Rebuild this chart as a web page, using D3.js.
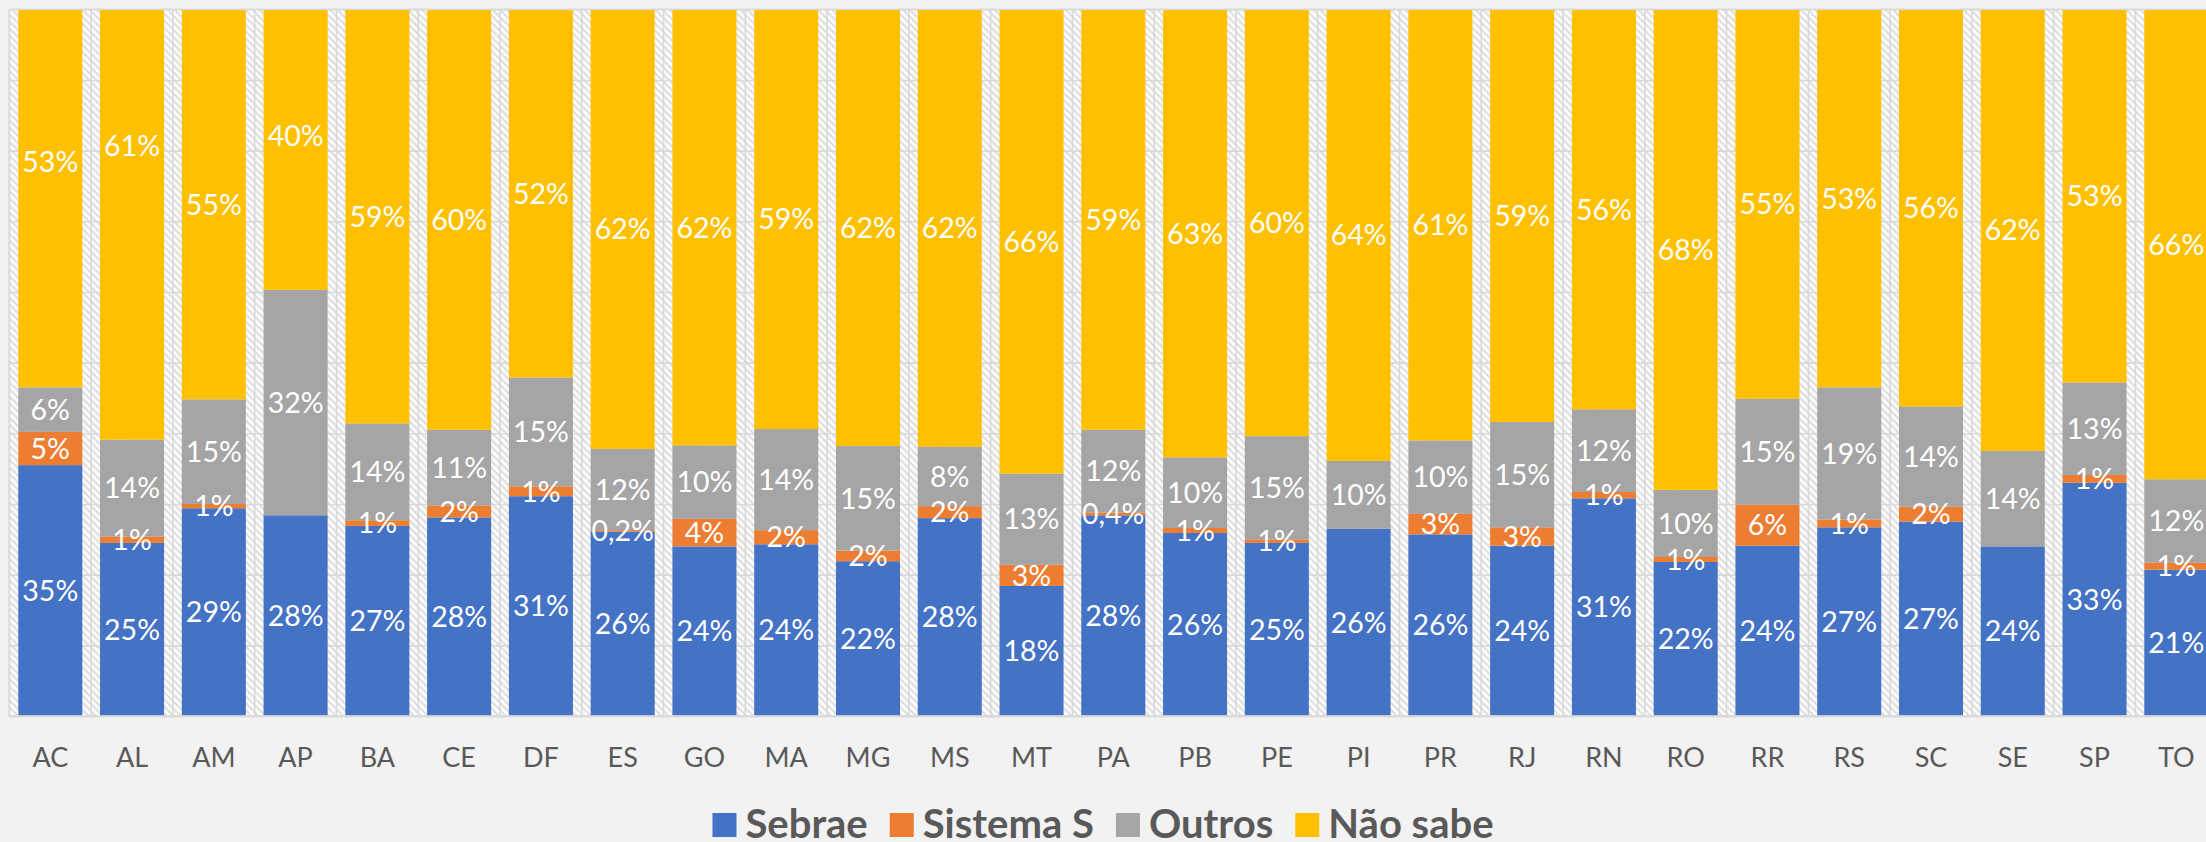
<!DOCTYPE html>
<html>
<head>
<meta charset="utf-8">
<script src="https://cdn.jsdelivr.net/npm/d3@7"></script>
<style>
  html, body { margin: 0; padding: 0; background: #f2f2f2; overflow: hidden; }
  svg { display: block; }
</style>
</head>
<body>
<svg id="chart" width="2206" height="842"></svg>
<script>
// ---------------- DATA ----------------
const categories = ["AC","AL","AM","AP","BA","CE","DF","ES","GO","MA","MG","MS","MT","PA","PB","PE","PI","PR","RJ","RN","RO","RR","RS","SC","SE","SP","TO"];

const seriesNames = ["Sebrae", "Sistema S", "Outros", "Não sabe"];

const sebrae   = [35.5,24.5,29.4,28.4,26.9,28.1,31.1,26.1,24.0,24.3,21.9,28.0,18.4,28.4,25.9,24.5,26.5,25.7,24.1,30.8,21.8,24.1,26.7,27.5,24.0,33.0,20.7];
const sistemaS = [4.7,0.9,0.6,0,0.8,1.7,1.4,0.2,3.9,2.0,1.5,1.7,3.0,0.4,0.7,0.5,0,2.9,2.6,0.9,0.7,5.8,1.1,2.1,0,1.1,1.0];
const outros   = [6.3,13.7,14.8,31.9,13.7,10.7,15.4,11.5,10.4,14.3,14.8,8.4,12.9,11.7,10.0,14.6,9.6,10.4,14.9,11.7,9.5,15.0,18.7,14.2,13.5,13.1,11.8];
const naoSabe  = [53.5,60.9,55.2,39.7,58.6,59.5,52.1,62.2,61.7,59.4,61.8,61.9,65.7,59.5,63.4,60.4,63.9,61.0,58.4,56.6,68.0,55.1,53.5,56.2,62.5,52.8,66.5];

// data labels as printed on the chart
const sebraeLabels   = ["35%","25%","29%","28%","27%","28%","31%","26%","24%","24%","22%","28%","18%","28%","26%","25%","26%","26%","24%","31%","22%","24%","27%","27%","24%","33%","21%"];
const sistemaSLabels = ["5%","1%","1%",null,"1%","2%","1%","0,2%","4%","2%","2%","2%","3%","0,4%","1%","1%",null,"3%","3%","1%","1%","6%","1%","2%",null,"1%","1%"];
const outrosLabels   = ["6%","14%","15%","32%","14%","11%","15%","12%","10%","14%","15%","8%","13%","12%","10%","15%","10%","10%","15%","12%","10%","15%","19%","14%","14%","13%","12%"];
const naoSabeLabels  = ["53%","61%","55%","40%","59%","60%","52%","62%","62%","59%","62%","62%","66%","59%","63%","60%","64%","61%","59%","56%","68%","55%","53%","56%","62%","53%","66%"];
// label nudges (percentage points, upward) for labels that sit off-centre in the original
const naoSabeLabelShift = [5.2,11.1,0,1.9,0,0,0,0,0,0,0,0,0,0,0,0,0,0,0,0,0,0,0,0,0,0,0];

const yTicks = [0,0.1,0.2,0.3,0.4,0.5,0.6,0.7,0.8,0.9,1.0];

const colors = ["#4472c4", "#ed7d31", "#a5a5a5", "#ffc000"];

// ---------------- BUILD ----------------
const seriesValues = [sebrae, sistemaS, outros, naoSabe];
const seriesLabels = [sebraeLabels, sistemaSLabels, outrosLabels, naoSabeLabels];
const rows = categories.map((c, i) => {
  const r = { cat: c, i };
  seriesNames.forEach((s, k) => r[s] = seriesValues[k][i]);
  return r;
});

const W = 2206, H = 842;
const svg = d3.select("#chart");
const step = 81.77;
const plotLeft = 9.4, plotTop = 9.3, plotBottom = 716;
const plotRight = plotLeft + step * categories.length;

const x = d3.scaleBand().domain(categories).range([plotLeft, plotRight])
  .paddingInner(0.217).paddingOuter(0.1085);
const y = d3.scaleLinear().domain([0, 1]).range([plotBottom, plotTop]);

// hatch pattern
const defs = svg.append("defs");
const pat = defs.append("pattern").attr("id", "hatch")
  .attr("patternUnits", "userSpaceOnUse").attr("width", 5).attr("height", 5)
  .attr("patternTransform", "rotate(-45)");
pat.append("rect").attr("width", 5).attr("height", 5).attr("fill", "#ffffff");
pat.append("line").attr("x1", 1.5).attr("y1", 0).attr("x2", 1.5).attr("y2", 5)
  .attr("stroke", "#d9d9d9").attr("stroke-width", 2);

// plot background
svg.append("rect")
  .attr("x", plotLeft).attr("y", plotTop)
  .attr("width", plotRight - plotLeft).attr("height", plotBottom - plotTop)
  .attr("fill", "url(#hatch)");

// horizontal gridlines
const gridY = svg.append("g").attr("transform", `translate(${plotLeft},0)`)
  .call(d3.axisLeft(y).tickValues(yTicks).tickSize(-(plotRight - plotLeft)).tickFormat(""));
gridY.select(".domain").remove();
gridY.selectAll("line").attr("stroke", "#d9d9d9").attr("stroke-width", 1.6);

// vertical gridlines at category boundaries
const bounds = d3.range(categories.length + 1).map(i => plotLeft + i * x.step());
svg.append("g").selectAll("line").data(bounds).join("line")
  .attr("x1", d => d).attr("x2", d => d)
  .attr("y1", plotTop).attr("y2", plotBottom)
  .attr("stroke", "#d9d9d9").attr("stroke-width", 1.6);

// stacked bars
const stack = d3.stack().keys(seriesNames).offset(d3.stackOffsetExpand);
const stacked = stack(rows);

const layers = svg.append("g").selectAll("g").data(stacked).join("g")
  .attr("fill", (d, k) => colors[k]);
layers.selectAll("rect").data(d => d).join("rect")
  .attr("x", d => x(d.data.cat))
  .attr("width", x.bandwidth())
  .attr("y", d => y(d[1]))
  .attr("height", d => Math.max(0, y(d[0]) - y(d[1])));

// data labels
const labelG = svg.append("g")
  .attr("font-family", "Lato, 'Open Sans', sans-serif")
  .attr("font-size", 28.5).attr("fill", "#ffffff").attr("text-anchor", "middle");
stacked.forEach((layer, k) => {
  layer.forEach((d, i) => {
    const txt = seriesLabels[k][i];
    if (!txt) return;
    let mid = (d[0] + d[1]) / 2;
    if (k === 3) mid += naoSabeLabelShift[i] / 100;
    labelG.append("text")
      .attr("x", x(d.data.cat) + x.bandwidth() / 2)
      .attr("y", y(mid))
      .attr("dy", "0.36em")
      .text(txt);
  });
});

// plot border
svg.append("rect")
  .attr("x", plotLeft).attr("y", plotTop)
  .attr("width", plotRight - plotLeft).attr("height", plotBottom - plotTop)
  .attr("fill", "none").attr("stroke", "#d9d9d9").attr("stroke-width", 1.6);

// x axis
const xAxis = svg.append("g").attr("transform", `translate(0,${plotBottom})`)
  .call(d3.axisBottom(x).tickSize(0).tickPadding(32));
xAxis.select(".domain").attr("stroke", "#d9d9d9").attr("stroke-width", 1.6);
xAxis.selectAll("text")
  .attr("font-family", "Lato, 'Open Sans', sans-serif")
  .attr("font-size", 27).attr("fill", "#595959");

// legend
const legend = svg.append("g")
  .attr("font-family", "Lato, 'Open Sans', sans-serif")
  .attr("font-weight", "bold").attr("font-size", 40).attr("fill", "#595959");
const sq = 24, gapSqText = 9, gapItems = 22;
const items = seriesNames.map((name, k) => {
  const g = legend.append("g");
  g.append("rect").attr("width", sq).attr("height", sq).attr("y", 813).attr("fill", colors[k]);
  const t = g.append("text").attr("x", sq + gapSqText).attr("y", 838).text(name);
  return { g, w: sq + gapSqText + t.node().getComputedTextLength() };
});
const totalW = d3.sum(items, d => d.w) + gapItems * (items.length - 1);
let cx = W / 2 - totalW / 2;
items.forEach(it => { it.g.attr("transform", `translate(${cx},0)`); cx += it.w + gapItems; });
</script>
</body>
</html>
